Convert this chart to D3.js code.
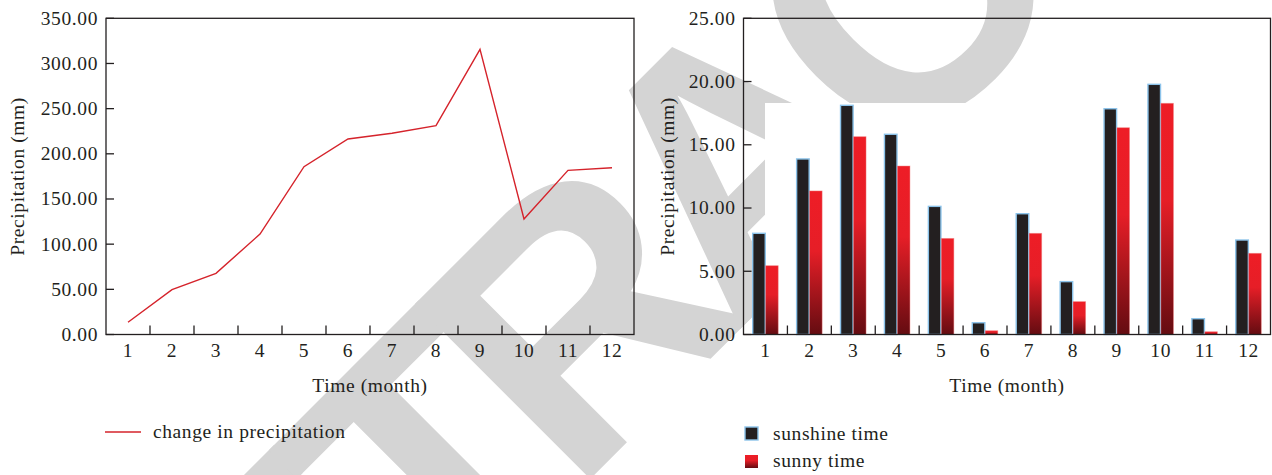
<!DOCTYPE html>
<html>
<head>
<meta charset="utf-8">
<script src="https://cdn.jsdelivr.net/npm/d3@7"></script>
<style>
  html, body { margin: 0; padding: 0; background: #fff; }
  svg { display: block; }
  text.lbl { font-family: "Liberation Serif", "Times New Roman", serif; fill: #231f20; letter-spacing: 0.6px; }
</style>
</head>
<body>
<svg id="chart" width="1272" height="475"></svg>
<script>
// Monthly data
const months = ["1", "2", "3", "4", "5", "6", "7", "8", "9", "10", "11", "12"];
const precipitation = [13.5, 49.6, 67.7, 111.2, 185.7, 216.4, 222.7, 231.1, 315.7, 127.8, 181.7, 184.6];
const sunshineTime = [8.0, 13.88, 18.12, 15.83, 10.13, 0.93, 9.55, 4.18, 17.85, 19.78, 1.25, 7.47];
const sunnyTime = [5.44, 11.35, 15.64, 13.32, 7.6, 0.3, 8.0, 2.6, 16.35, 18.28, 0.22, 6.42];
const precipTicks = [0, 50, 100, 150, 200, 250, 300, 350];
const sunTicks = [0, 5, 10, 15, 20, 25];
const seriesNames = ["sunshine time", "sunny time"];
const stampText = "RETRACTED";

const svg = d3.select("#chart");
const ink = "#231f20";
const fontSize = 19.5;

// Gradient used by the red bars and their legend key
const defs = svg.append("defs");
const grad = defs.append("linearGradient").attr("id", "redGrad")
  .attr("x1", 0).attr("y1", 0).attr("x2", 0).attr("y2", 1);
grad.append("stop").attr("offset", "0%").attr("stop-color", "#ee1d26");
grad.append("stop").attr("offset", "42%").attr("stop-color", "#e61e27");
grad.append("stop").attr("offset", "100%").attr("stop-color", "#640c11");

// Diagonal stamp drawn underneath both panels, tightly tracked
const stampSize = 360;
const stampLayer = svg.append("g");
const stamp = stampLayer.append("text")
  .text(stampText)
  .style("font-family", "'Liberation Sans', Arial, sans-serif")
  .style("font-weight", "bold")
  .style("font-size", stampSize + "px")
  .style("letter-spacing", "-33px")
  .style("fill", "#d4d4d4");
{
  const node = stamp.node();
  const i = stampText.indexOf("C");
  const cx = node.getStartPositionOfChar(i).x + 0.361 * stampSize;
  const cy = 0.358 * stampSize;
  stamp.attr("transform", `translate(895,-8) rotate(-45) translate(${-cx},${cy})`);
}
// the stamp stays clear of the lower part of the bar panel
stampLayer.append("rect").attr("x", 765).attr("y", 103)
  .attr("width", 1272 - 765).attr("height", 475 - 103).attr("fill", "#fff");

function frame(g, x0, x1, y0, y1) {
  g.append("rect")
    .attr("x", x0).attr("y", y0)
    .attr("width", x1 - x0).attr("height", y1 - y0)
    .attr("fill", "none").attr("stroke", ink).attr("stroke-width", 1.3);
}

function label(g) {
  return g.append("text").attr("class", "lbl").style("font-size", fontSize + "px");
}

function bottomAxis(g, x, y1, x0, x1) {
  // inner ticks between months
  const bw = x.bandwidth();
  const bounds = months.slice(1).map(m => x(m));
  g.selectAll(null).data(bounds).enter().append("line")
    .attr("x1", d => d).attr("x2", d => d)
    .attr("y1", y1).attr("y2", y1 - 9)
    .attr("stroke", ink).attr("stroke-width", 1.3);
  g.selectAll(null).data(months).enter().append("text")
    .attr("class", "lbl").style("font-size", fontSize + "px")
    .attr("x", d => x(d) + bw / 2).attr("y", y1 + 22.5)
    .attr("text-anchor", "middle")
    .text(d => d);
  label(g)
    .attr("x", (x0 + x1) / 2).attr("y", y1 + 57)
    .attr("text-anchor", "middle")
    .text("Time (month)");
}

function leftAxis(g, y, ticks, x0, fmt, titleX, y0, y1) {
  g.selectAll(null).data(ticks).enter().append("line")
    .attr("x1", x0).attr("x2", x0 + 8)
    .attr("y1", d => y(d)).attr("y2", d => y(d))
    .attr("stroke", ink).attr("stroke-width", 1.3);
  g.selectAll(null).data(ticks).enter().append("text")
    .attr("class", "lbl").style("font-size", fontSize + "px")
    .attr("x", x0 - 8).attr("y", d => y(d))
    .attr("dy", "0.33em")
    .attr("text-anchor", "end")
    .text(d => fmt(d));
  label(g)
    .attr("transform", `translate(${titleX},${(y0 + y1) / 2}) rotate(-90)`)
    .attr("text-anchor", "middle").attr("dy", "0.33em")
    .text("Precipitation (mm)");
}

const fmt2 = d3.format(".2f");
const plotTop = 18.3, plotBottom = 334.5;

// ---- Left panel: precipitation line ----
{
  const x0 = 106, x1 = 634;
  const g = svg.append("g");
  const x = d3.scaleBand().domain(months).range([x0, x1]);
  const y = d3.scaleLinear().domain([0, 350]).range([plotBottom, plotTop]);

  const line = d3.line()
    .x((d, i) => x(months[i]) + x.bandwidth() / 2)
    .y(d => y(d));
  g.append("path").datum(precipitation)
    .attr("d", line).attr("fill", "none")
    .attr("stroke", "#d5232b").attr("stroke-width", 1.4);

  frame(g, x0, x1, plotTop, plotBottom);
  bottomAxis(g, x, plotBottom, x0, x1);
  leftAxis(g, y, precipTicks, x0, fmt2, 18, plotTop, plotBottom);

  // legend
  g.append("line").attr("x1", 105).attr("x2", 141).attr("y1", 432).attr("y2", 432)
    .attr("stroke", "#d5232b").attr("stroke-width", 1.4);
  label(g).attr("x", 153).attr("y", 432).attr("dy", "0.33em")
    .text("change in precipitation");
}

// ---- Right panel: grouped bars ----
{
  const x0 = 743.5, x1 = 1270.5;
  const g = svg.append("g");
  const x = d3.scaleBand().domain(months).range([x0, x1]);
  const bw = x.bandwidth();
  const groupW = 25.5;
  const xs = d3.scaleBand().domain(seriesNames)
    .range([(bw - groupW) / 2, (bw + groupW) / 2]).paddingInner(0.03);
  const y = d3.scaleLinear().domain([0, 25]).range([plotBottom, plotTop]);

  const rows = months.map((m, i) => ({ m, vals: [sunshineTime[i], sunnyTime[i]] }));
  const grp = g.selectAll(null).data(rows).enter().append("g")
    .attr("transform", d => `translate(${x(d.m)},0)`);
  grp.append("rect")
    .attr("x", xs(seriesNames[0])).attr("width", xs.bandwidth())
    .attr("y", d => y(d.vals[0])).attr("height", d => y(0) - y(d.vals[0]))
    .attr("fill", ink).attr("stroke", "#8cc3ea").attr("stroke-width", 1.4);
  grp.append("rect")
    .attr("x", xs(seriesNames[1])).attr("width", xs.bandwidth())
    .attr("y", d => y(d.vals[1])).attr("height", d => y(0) - y(d.vals[1]))
    .attr("fill", "url(#redGrad)").attr("stroke", "rgba(240,130,130,0.55)").attr("stroke-width", 0.8);

  frame(g, x0, x1, plotTop, plotBottom);
  bottomAxis(g, x, plotBottom, x0, x1);
  leftAxis(g, y, sunTicks, x0, fmt2, 668, plotTop, plotBottom);

  // legend
  const lg = g.append("g");
  lg.append("rect").attr("x", 745).attr("y", 427).attr("width", 13).attr("height", 13)
    .attr("fill", ink).attr("stroke", "#8cc3ea").attr("stroke-width", 1.4);
  label(lg).attr("x", 773).attr("y", 433.5).attr("dy", "0.33em").text(seriesNames[0]);
  lg.append("rect").attr("x", 745).attr("y", 455).attr("width", 13).attr("height", 13)
    .attr("fill", "url(#redGrad)");
  label(lg).attr("x", 773).attr("y", 461).attr("dy", "0.33em").text(seriesNames[1]);
}
</script>
</body>
</html>
